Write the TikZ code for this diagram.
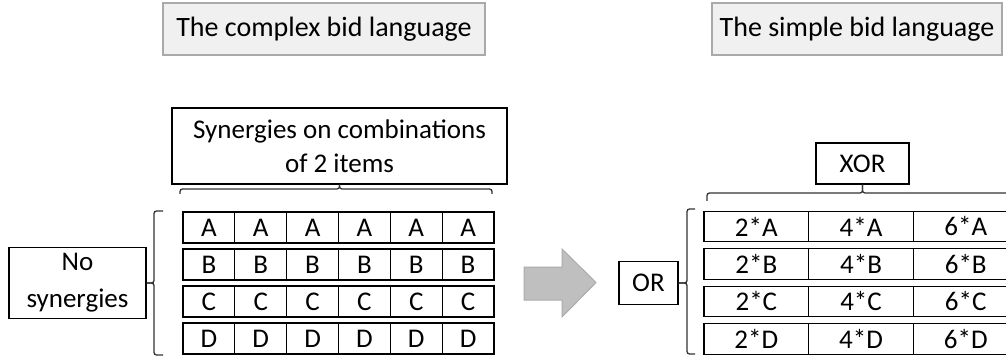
\documentclass[tikz,border=0pt]{standalone}
\usepackage{fontspec}
\setmainfont{Carlito}
\definecolor{tgray}{HTML}{A9A9A9}
\definecolor{tfill}{HTML}{F0F0F0}
\definecolor{agray}{HTML}{BFBFBF}
\definecolor{aborder}{HTML}{ABABAB}
\begin{document}
\begin{tikzpicture}[x=1pt,y=-1pt,
  every node/.style={font=\fontsize{27}{34}\selectfont, inner sep=0pt},
  titlebox/.style={draw=tgray, fill=tfill, line width=2.4pt, minimum height=52pt, font=\fontsize{28}{34}\selectfont},
  box/.style={draw=black, line width=1.3pt, align=center},
  cell/.style={draw=black, line width=1.3pt, minimum width=51.83pt, minimum height=31pt},
  rcell/.style={draw=black, line width=1.3pt, minimum width=104.7pt, minimum height=30.5pt},
  bracestyle/.style={draw=black!80, line width=1.3pt, rounded corners=2.5pt}]
\useasboundingbox (0,0) rectangle (1006,358);
\clip (0,0) rectangle (1006,358);

% titles
\node[titlebox, minimum width=322pt] (t1) at (324,29) {The complex bid language};
\node[titlebox, minimum width=290pt] (t2) at (857,29) {The simple bid language};

% left part
\node[box, minimum width=335pt, minimum height=76pt] (syn) at (339.5,146) {Synergies on combinations\\of 2 items};
\node[box, minimum width=137pt, minimum height=71pt, font=\fontsize{27}{37}\selectfont] (nos) at (77.5,283) {No\\synergies};

\foreach \l [count=\r from 0] in {A,B,C,D}{
  \foreach \c in {0,...,5}{
    \node[cell] (L-\r-\c) at ({183+51.83*(\c+0.5)},{227.5+37*\r}) {\l};
  }
}

\draw[bracestyle] (180,194) |- (syn.south |- 0,189) -- (syn.south);
\draw[bracestyle] (syn.south) -- (syn.south |- 0,189) -| (492,194);
\draw[bracestyle] (163,211) -| (154,283) -- (nos.east);
\draw[bracestyle] (nos.east) -- (154,283) |- (163,355);

% arrow
\draw[fill=agray, draw=aborder, line width=1pt] (524,267) -- (562,267) -- (562,249) -- (596,282.5) -- (562,317) -- (562,300) -- (524,300) -- cycle;

% right part
\node[box, minimum width=93pt, minimum height=41pt] (xor) at (862.5,163.5) {XOR};
\node[box, minimum width=59pt, minimum height=43pt] (or) at (648.5,283) {OR};

\foreach \l [count=\r from 0] in {A,B,C,D}{
  \foreach \m [count=\c from 0] in {2,4,6}{
    \node[rcell] (R-\r-\c) at ({704+104.7*(\c+0.5)},{226.5+37.5*\r}) {\m*\l};
  }
}

\draw[bracestyle] (707,201) |- (xor.south |- 0,193) -- (xor.south);
\draw[bracestyle] (xor.south) -- (xor.south |- 0,193) -| (1018,201);
\draw[bracestyle] (695,209) -| (687,283) -- (or.east);
\draw[bracestyle] (or.east) -- (687,283) |- (695,354);
\end{tikzpicture}
\end{document}
